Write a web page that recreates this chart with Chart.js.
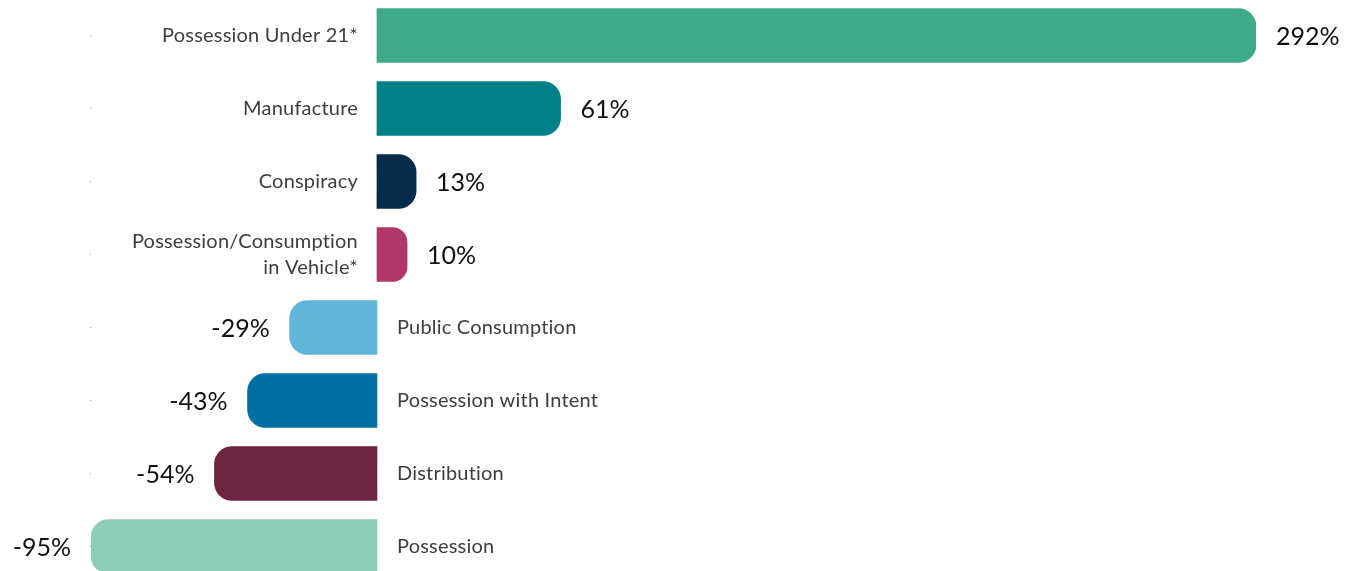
<!DOCTYPE html>
<html>
<head>
<meta charset="utf-8">
<script src="https://cdn.jsdelivr.net/npm/chart.js@4/dist/chart.umd.min.js"></script>
<style>
  html, body { margin: 0; padding: 0; background: #fff; overflow: hidden; }
  #wrap { position: absolute; left: 0; top: -1px; width: 1358px; height: 584px; }
</style>
</head>
<body>
<div id="wrap"><canvas id="myChart"></canvas></div>
<script>
const categories = [
  'Possession Under 21*',
  'Manufacture',
  'Conspiracy',
  ['Possession/Consumption', 'in Vehicle*'],
  'Public Consumption',
  'Possession with Intent',
  'Distribution',
  'Possession'
];
const changePct = [292, 61, 13, 10, -29, -43, -54, -95];
const barColors = ['#3fa98a', '#00818a', '#052d4b', '#b2366a', '#61b5d8', '#0070a3', '#6e2442', '#8dcdb8'];

// labels next to the bars
const barLabels = {
  id: 'barLabels',
  afterDatasetsDraw(chart) {
    const c = chart.ctx;
    const meta = chart.getDatasetMeta(0);
    c.save();
    c.textBaseline = 'middle';
    meta.data.forEach((bar, i) => {
      const v = changePct[i];
      const lines = Array.isArray(categories[i]) ? categories[i] : [categories[i]];
      const lh = 26;
      // value
      c.font = '25px Lato';
      c.letterSpacing = '0px';
      c.fillStyle = '#111';
      if (v >= 0) {
        c.textAlign = 'left';
        c.fillText(v + '%', bar.x + 20, bar.y + 1);
      } else {
        c.textAlign = 'right';
        c.fillText(v + '%', bar.x - 20, bar.y + 1);
      }
      // category
      c.font = '20px Lato';
      c.letterSpacing = '0.2px';
      c.fillStyle = '#3d3d3d';
      c.textAlign = v >= 0 ? 'right' : 'left';
      const cx = v >= 0 ? bar.base - 19 : bar.base + 20;
      const y0 = bar.y - (lines.length - 1) * lh / 2;
      lines.forEach((t, k) => c.fillText(t, cx, y0 + k * lh));
    });
    c.restore();
  }
};

const ctx = document.getElementById('myChart');
new Chart(ctx, {
  type: 'bar',
  data: {
    labels: categories,
    datasets: [{
      data: changePct,
      backgroundColor: barColors,
      borderRadius: 18,
      borderSkipped: 'start',
      barThickness: 54
    }]
  },
  options: {
    indexAxis: 'y',
    responsive: true,
    maintainAspectRatio: false,
    animation: false,
    layout: { padding: { left: 90, right: 102, top: 0, bottom: 0 } },
    plugins: { legend: { display: false }, tooltip: { enabled: false } },
    scales: {
      x: {
        display: false,
        min: -95,
        max: 292
      },
      y: {
        position: 'left',
        ticks: { display: false },
        border: { display: false },
        grid: {
          display: true,
          offset: false,
          drawOnChartArea: false,
          drawTicks: true,
          tickLength: 1,
          color: '#999'
        }
      }
    }
  },
  plugins: [barLabels]
});
</script>
</body>
</html>
